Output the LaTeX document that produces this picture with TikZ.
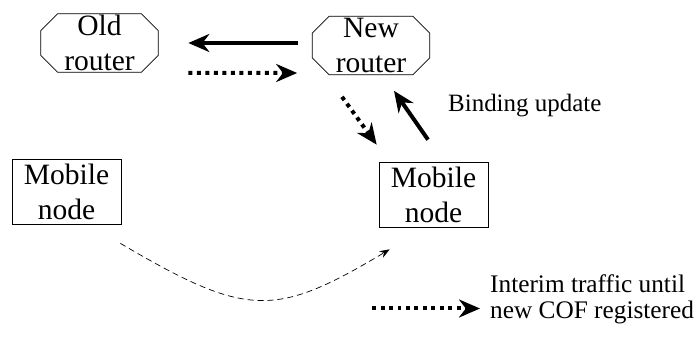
\documentclass[tikz,border=0pt]{standalone}
\usepackage{fontspec}
\setmainfont{Liberation Serif}
\usepackage{tikz}
\usetikzlibrary{positioning,arrows.meta,calc}
\tikzset{router/.style={
    rectangle, minimum width=2.34cm, minimum height=1.16cm, inner sep=0pt,
    align=center, font=\fontsize{16.8}{20}\selectfont,
    append after command={\pgfextra{\let\rtr=\tikzlastnode
      \draw[thin]
        ($(\rtr.north west)+(0.34cm,0)$) -- ($(\rtr.north east)+(-0.34cm,0)$)
        -- ($(\rtr.north east)+(0,-0.34cm)$) -- ($(\rtr.south east)+(0,0.34cm)$)
        -- ($(\rtr.south east)+(-0.34cm,0)$) -- ($(\rtr.south west)+(0.34cm,0)$)
        -- ($(\rtr.south west)+(0,0.34cm)$) -- ($(\rtr.north west)+(0,-0.34cm)$)
        -- cycle;}}
    },
  mobile/.style={
    draw, thin, rectangle, minimum width=2.18cm, minimum height=1.3cm,
    inner sep=0pt, align=center, font=\fontsize{16.8}{20}\selectfont
    },
  solidflow/.style={-{Stealth[length=0.42cm,width=0.36cm]}, line width=0.08cm},
  interim/.style={-{Stealth[length=0.42cm,width=0.36cm]}, line width=0.08cm,
    dash pattern=on 0.08cm off 0.09cm},
  handoff/.style={-{Stealth[length=0.2cm,width=0.15cm]}, thin, dash pattern=on 0.12cm off 0.08cm}
}

\begin{document}
\begin{tikzpicture}[x=0.02cm,y=-0.02cm]
	\useasboundingbox (0,0) rectangle (696,337);
	\node[router] (old) at (99.5,43) {Old\\router};
	\node[router] (new) at (371,45.5) {New\\router};
	\node[mobile] (mob1) at (66.5,191.5) {Mobile\\node};
	\node[mobile] (mob2) at (433.5,194.5) {Mobile\\node};
	\node[anchor=west,font=\fontsize{14.2}{17}\selectfont] (bind) at (442,106) {Binding update};
	\node[anchor=west,align=left,font=\fontsize{14.4}{14.8}\selectfont] (legend) at (484,299) {Interim traffic until\\new COF registered};
	\coordinate (lgA) at (372,308.5);
	% old <-> new router
	\draw [solidflow] ($(new.west)+(-14,-2.5)$) -- ($(old.east)+(30,0)$);
	\draw [interim] ($(old.east)+(30,30)$) -- ($(new.west)+(-15,27.5)$);
	% new router <-> mobile node
	\draw [interim] ($(new.south)+(-29,22)$) -- ($(mob2.north west)+(-2,-17)$);
	\draw [solidflow] ($(mob2.north)+(-5.5,-22)$) -- ($(new.south)+(23,16)$);
	% movement
	\draw [handoff] ($(mob1.south east)+(-1,19)$) .. controls (247,318) and (275,318) .. ($(mob2.south west)+(11,22)$);
	% legend
	\draw [interim] (lgA) -- ($(lgA -| legend.west)+(-4,0)$);
\end{tikzpicture}
\end{document}
